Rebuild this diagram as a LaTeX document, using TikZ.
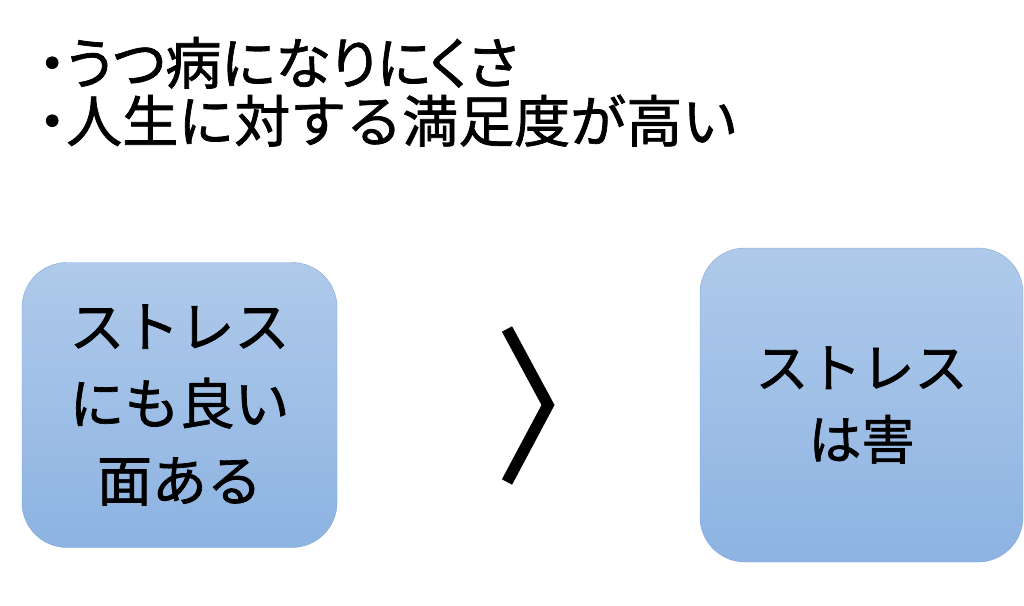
\documentclass[tikz,border=0pt]{standalone}
\usepackage{fontspec}
\newfontfamily\jpfont[FakeBold=1.3]{Noto Sans CJK JP}
\newfontfamily\jppropfont[RawFeature=+palt, FakeBold=1.3]{Noto Sans CJK JP}
\usetikzlibrary{positioning}
\definecolor{box top colour}{HTML}{AFCAEA}
\definecolor{box bottom colour}{HTML}{8DB3E2}
\definecolor{box edge colour}{HTML}{7EA6D8}
\tikzset{
    % Filled boxes with a soft vertical gradient
    box/.style={
        draw=box edge colour, thin, rectangle, rounded corners=45pt,
        top color=box top colour, bottom color=box bottom colour,
        align=center, text=black},
    big text/.style={font=\jpfont\fontsize{55pt}{77pt}\selectfont},
    mid text/.style={font=\jpfont\fontsize{53pt}{72pt}\selectfont},
    list text/.style={
        anchor=base west, inner sep=0,
        font=\jppropfont\fontsize{56pt}{58pt}\selectfont},
%
    % The comparison sign between the boxes
    chevron/.style={draw, black, line width=11.5pt, line join=miter},
}

\begin{document}
\begin{tikzpicture}[x=1pt, y=-1pt]
\useasboundingbox (0,0) rectangle (1024,605);

\path
    (38,84) node [list text] (first) {・うつ病になりにくさ}
    (38,142) node [list text] (second) {・{\jpfont 人生に対する満足度が高い}}
    (179.5,405) node [box, big text, minimum width=315pt, minimum height=285pt]
        (good) {ストレス\\にも良い\\面ある}
    (861.5,405) node [box, mid text, minimum width=323pt, minimum height=314pt]
        (harm) {ストレス\\は害};

\coordinate (upper) at (507,329);
\coordinate (tip) at (548,405);
\coordinate (lower) at (507,482);
\draw [chevron] (upper) -- (tip) -- (lower);

\end{tikzpicture}
\end{document}
